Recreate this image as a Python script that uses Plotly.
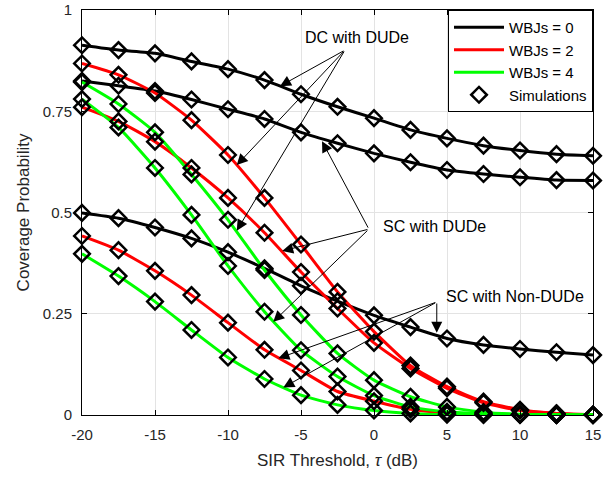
import plotly.graph_objects as go

# SIR threshold (dB)
sir_db = [-20, -17.5, -15, -12.5, -10, -7.5, -5, -2.5, 0, 2.5, 5, 7.5, 10, 12.5, 15]

# Coverage probability, WBJs = 0
wbj0_dc_dude = [0.913, 0.901, 0.893, 0.873, 0.854, 0.827, 0.792, 0.761, 0.733, 0.704, 0.683, 0.665, 0.653, 0.644, 0.640]
wbj0_sc_dude = [0.825, 0.813, 0.800, 0.779, 0.755, 0.731, 0.698, 0.671, 0.646, 0.624, 0.605, 0.595, 0.587, 0.580, 0.579]
wbj0_sc_nondude = [0.499, 0.486, 0.463, 0.436, 0.402, 0.362, 0.319, 0.281, 0.246, 0.217, 0.189, 0.173, 0.163, 0.155, 0.148]

# Coverage probability, WBJs = 2
wbj2_dc_dude = [0.868, 0.840, 0.795, 0.728, 0.642, 0.536, 0.421, 0.304, 0.206, 0.122, 0.070, 0.033, 0.013, 0.004, 0.001]
wbj2_sc_dude = [0.760, 0.725, 0.675, 0.610, 0.536, 0.450, 0.353, 0.263, 0.178, 0.115, 0.066, 0.030, 0.011, 0.004, 0.001]
wbj2_sc_nondude = [0.442, 0.407, 0.356, 0.296, 0.228, 0.161, 0.110, 0.058, 0.034, 0.014, 0.005, 0.002, 0.001, 0.000, 0.000]

# Coverage probability, WBJs = 4
wbj4_dc_dude = [0.822, 0.768, 0.698, 0.594, 0.482, 0.358, 0.247, 0.152, 0.086, 0.045, 0.020, 0.007, 0.002, 0.001, 0.000]
wbj4_sc_dude = [0.780, 0.710, 0.610, 0.494, 0.368, 0.255, 0.160, 0.095, 0.048, 0.020, 0.008, 0.003, 0.001, 0.000, 0.000]
wbj4_sc_nondude = [0.398, 0.343, 0.280, 0.210, 0.142, 0.089, 0.049, 0.025, 0.011, 0.004, 0.001, 0.000, 0.000, 0.000, 0.000]

legend_names = ["WBJs = 0", "WBJs = 2", "WBJs = 4"]
colors = ["#000000", "#ff0000", "#00ff00"]
groups = [
    [wbj0_dc_dude, wbj0_sc_dude, wbj0_sc_nondude],
    [wbj2_dc_dude, wbj2_sc_dude, wbj2_sc_nondude],
    [wbj4_dc_dude, wbj4_sc_dude, wbj4_sc_nondude],
]

x_ticks = [-20, -15, -10, -5, 0, 5, 10, 15]
x_ticktext = ["-20", "-15", "-10", "-5", "0", "5", "10", "15"]
y_ticks = [0, 0.25, 0.5, 0.75, 1]
y_ticktext = ["0", "0.25", "0.5", "0.75", "1"]

FONT = "Arial, Liberation Sans, Helvetica, sans-serif"
TXT = "#262626"

fig = go.Figure()

# analytical curves
for name, color, curves in zip(legend_names, colors, groups):
    for i, y in enumerate(curves):
        fig.add_trace(go.Scatter(
            x=sir_db, y=y, mode="lines", name=name,
            line=dict(color=color, width=3, shape="spline", smoothing=0.5),
            showlegend=(i == 0), legendgroup=name, cliponaxis=False,
        ))

# simulation points on top of every curve
first = True
for curves in groups:
    for y in curves:
        fig.add_trace(go.Scatter(
            x=sir_db, y=y, mode="markers", name="Simulations",
            marker=dict(symbol="diamond-open", size=12, color="black",
                        line=dict(width=2.5, color="black")),
            showlegend=first, legendgroup="sim", cliponaxis=False,
        ))
        first = False

# labels with pointer arrows
labels = [
    ("DC with DUDe", -1.17, 0.933),
    ("SC with DUDe", 4.17, 0.465),
    ("SC with Non-DUDe", 9.67, 0.292),
]
for text, x, y in labels:
    fig.add_annotation(x=x, y=y, text=text, showarrow=False,
                       font=dict(family=FONT, size=16, color="black"),
                       xanchor="center", yanchor="middle")

arrows = [
    # (tail x, tail y, head x, head y)
    (-1.99, 0.901, -6.44, 0.812),
    (-1.99, 0.901, -9.40, 0.617),
    (-1.99, 0.901, -9.40, 0.455),
    (-0.35, 0.459, -3.56, 0.676),
    (-0.35, 0.459, -6.29, 0.405),
    (-0.35, 0.459, -6.90, 0.230),
    (4.30, 0.279, 4.30, 0.203),
    (4.30, 0.279, -6.55, 0.140),
    (4.30, 0.279, -6.21, 0.068),
]
for ax_, ay_, hx, hy in arrows:
    fig.add_annotation(x=hx, y=hy, ax=ax_, ay=ay_, axref="x", ayref="y",
                       xref="x", yref="y", text="", showarrow=True,
                       arrowhead=2, arrowsize=2.2, arrowwidth=1,
                       arrowcolor="black", standoff=0)

axis_common = dict(
    showline=True, linecolor="black", linewidth=1, mirror="ticks",
    ticks="inside", ticklen=5, tickcolor="black", tickwidth=1,
    showgrid=True, gridcolor="#e3e3e3", gridwidth=1, zeroline=False,
    tickfont=dict(family=FONT, size=15, color=TXT), automargin=False,
)

fig.update_xaxes(
    range=[-20, 15], tickvals=x_ticks, ticktext=x_ticktext,
    ticklabelstandoff=6,
    title=dict(text="SIR Threshold, <i>τ</i> (dB)", standoff=12,
               font=dict(family=FONT, size=17, color=TXT)),
    **axis_common,
)
fig.update_yaxes(
    range=[0, 1], tickvals=y_ticks, ticktext=y_ticktext,
    ticklabelstandoff=6,
    title=dict(text="Coverage Probability", standoff=8,
               font=dict(family=FONT, size=17, color=TXT)),
    **axis_common,
)

fig.update_layout(
    width=613, height=477,
    margin=dict(l=82, r=20, t=10, b=62, autoexpand=False),
    plot_bgcolor="white", paper_bgcolor="white",
    font=dict(family=FONT, color="black"),
    legend=dict(
        x=1, y=1, xanchor="right", yanchor="top",
        bgcolor="white", bordercolor="black", borderwidth=1,
        font=dict(family=FONT, size=15, color="black"),
        itemwidth=50, tracegroupgap=0,
    ),
)

fig.write_html("out.html")
